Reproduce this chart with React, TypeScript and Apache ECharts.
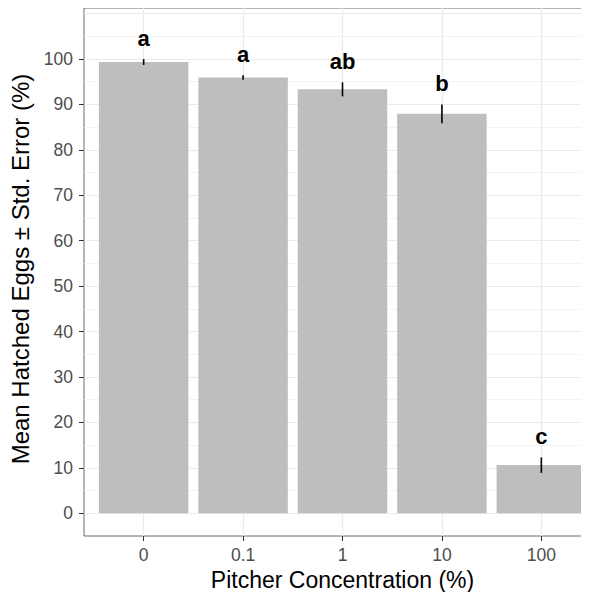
import React, { useEffect, useRef } from "react";
import * as echarts from "echarts";

const categories = ["0", "0.1", "1", "10", "100"];
const positions = [1, 2, 3, 4, 5];
const means = [99.3, 95.9, 93.3, 87.9, 10.6];
const stdErrors = [0.65, 0.5, 1.55, 2.05, 1.7];
const letters = ["a", "a", "ab", "b", "c"];
const yTicks = [0, 10, 20, 30, 40, 50, 60, 70, 80, 90, 100];
const majorGrid = [0, 10, 20, 30, 40, 50, 60, 70, 80, 90, 100, 110];
const minorGrid = [5, 15, 25, 35, 45, 55, 65, 75, 85, 95, 105];

const FONT = "'Liberation Sans', Arial, sans-serif";

export default function App() {
  const ref = useRef<HTMLDivElement>(null);
  useEffect(() => {
    if (!ref.current) return;
    const chart = echarts.init(ref.current, undefined, { renderer: "svg" });
    const gridLeft = 84;
    const gridWidth = 517;
    const barWidth = (0.9 * gridWidth) / 5.2;
    const yMin = -5;
    const yMax = 111.2;
    const option: any = {
      animation: false,
      backgroundColor: "#ffffff",
      grid: {
        left: gridLeft,
        top: 8,
        width: gridWidth,
        height: 528,
        show: true,
        borderColor: "#6b6b6b",
        borderWidth: 1,
        backgroundColor: "transparent",
        containLabel: false,
        outerBoundsMode: "none",
      },
      xAxis: [
        {
          type: "value",
          position: "bottom",
          min: 0.4,
          max: 5.6,
          name: "Pitcher Concentration (%)",
          nameLocation: "middle",
          nameGap: 28,
          nameTextStyle: { fontFamily: FONT, fontSize: 23, lineHeight: 23, color: "#000" },
          axisLine: { show: false, onZero: false },
          axisTick: {
            show: true,
            customValues: positions,
            length: 5,
            lineStyle: { color: "#333", width: 1 },
          },
          axisLabel: {
            customValues: positions,
            formatter: (v: number) => categories[Math.round(v) - 1] ?? "",
            fontFamily: FONT,
            fontSize: 17.5,
            color: "#4d4d4d",
            margin: 10,
          },
          splitLine: { show: true, lineStyle: { color: "#ebebeb", width: 1.2 } },
        },
      ],
      yAxis: [
        {
          type: "value",
          position: "left",
          offset: 0,
          min: yMin,
          max: yMax,
          axisLine: { show: false, onZero: false },
          axisTick: { show: false, customValues: majorGrid },
          axisLabel: { show: false, customValues: majorGrid },
          splitLine: { show: true, lineStyle: { color: "#ebebeb", width: 1.2 } },
        },
        {
          type: "value",
          position: "left",
          offset: 0,
          min: yMin,
          max: yMax,
          axisLine: { show: false, onZero: false },
          axisTick: { show: false, customValues: minorGrid },
          axisLabel: { show: false, customValues: minorGrid },
          splitLine: { show: true, lineStyle: { color: "#f0f0f0", width: 0.8 } },
        },
        {
          type: "value",
          position: "left",
          offset: 0,
          min: yMin,
          max: yMax,
          name: "Mean Hatched Eggs ± Std. Error (%)",
          nameLocation: "middle",
          nameGap: 49,
          nameTextStyle: { fontFamily: FONT, fontSize: 24, color: "#000", padding: [0, 0, 0, 6] },
          axisLine: { show: false, onZero: false },
          axisTick: {
            show: true,
            customValues: yTicks,
            length: 5,
            lineStyle: { color: "#333", width: 1 },
          },
          axisLabel: {
            customValues: yTicks,
            fontFamily: FONT,
            fontSize: 17.5,
            color: "#4d4d4d",
            margin: 11,
          },
          splitLine: { show: false },
        },
      ],
      series: [
        {
          type: "bar",
          xAxisIndex: 0,
          yAxisIndex: 0,
          barWidth: barWidth,
          itemStyle: { color: "#bebebe" },
          data: positions.map((p, i) => [p, means[i]]),
          z: 3,
        },
        {
          type: "custom",
          xAxisIndex: 0,
          yAxisIndex: 0,
          z: 5,
          data: positions.map((p, i) => [p, means[i], stdErrors[i]]),
          renderItem: (params: any, api: any) => {
            const x = api.value(0);
            const m = api.value(1);
            const se = api.value(2);
            const top = api.coord([x, m + se]);
            const bot = api.coord([x, m - se]);
            return {
              type: "group",
              children: [
                {
                  type: "line",
                  shape: { x1: top[0], y1: top[1], x2: bot[0], y2: bot[1] },
                  style: { stroke: "#000", lineWidth: 1.6 },
                },
                {
                  type: "text",
                  style: {
                    text: letters[params.dataIndex],
                    x: top[0],
                    y: top[1] - 10,
                    textAlign: "center",
                    textVerticalAlign: "bottom",
                    fontFamily: FONT,
                    fontWeight: "bold",
                    fontSize: 22,
                    fill: "#000",
                  },
                },
              ],
            };
          },
        },
      ],
    };
    chart.setOption(option);
    return () => chart.dispose();
  }, []);
  return <div ref={ref} style={{ width: 589, height: 592, marginLeft: -8, marginTop: -8 }} />;
}
